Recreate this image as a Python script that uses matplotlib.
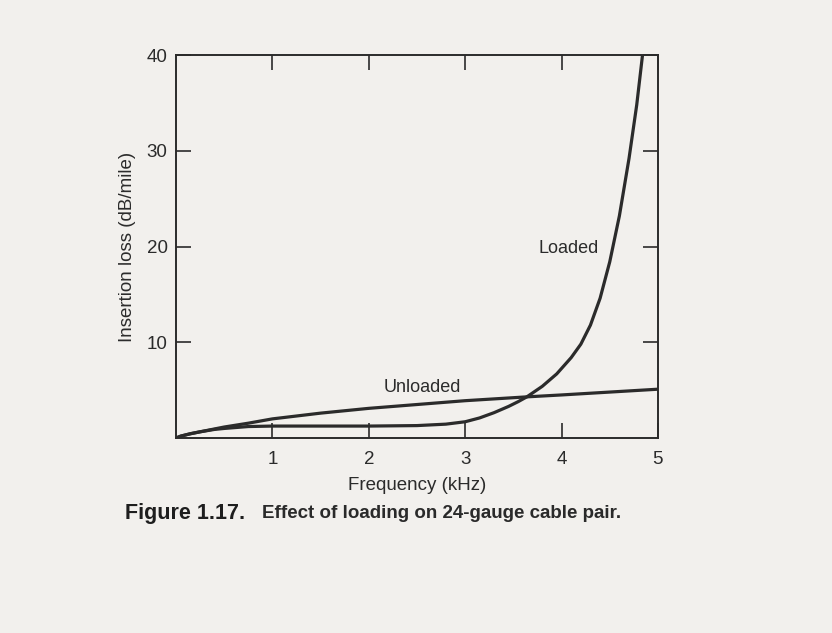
import numpy as np
import matplotlib.pyplot as plt

plt.rcParams['font.family'] = ['Liberation Sans', 'DejaVu Sans']

# Curvas (frecuencia en kHz, perdida en dB/milla)
frec_sin_carga = [0.0, 0.05, 0.15, 0.25, 0.4, 0.5, 0.75, 1.0, 1.5, 2.0, 2.5,
                  3.0, 3.64, 4.0, 4.5, 5.0]
perd_sin_carga = [0.0, 0.2, 0.45, 0.65, 0.95, 1.15, 1.55, 2.0, 2.6, 3.1, 3.5,
                  3.9, 4.3, 4.5, 4.8, 5.1]

frec_con_carga = [0.0, 0.05, 0.15, 0.25, 0.4, 0.5, 0.75, 1.0, 1.5, 2.0, 2.5,
                  2.8, 3.0, 3.15, 3.3, 3.45, 3.55, 3.64, 3.8, 3.95, 4.1, 4.2,
                  4.3, 4.4, 4.5, 4.6, 4.7, 4.78, 4.84]
perd_con_carga = [0.0, 0.2, 0.45, 0.65, 0.9, 1.0, 1.2, 1.25, 1.25, 1.25, 1.3,
                  1.45, 1.7, 2.1, 2.65, 3.3, 3.8, 4.3, 5.4, 6.7, 8.4, 9.8,
                  11.8, 14.6, 18.4, 23.2, 29.2, 34.8, 40.0]

xticks = [1, 2, 3, 4, 5]
yticks = [10, 20, 30, 40]

fondo = '#f2f0ed'
tinta = '#2b2b2b'

fig = plt.figure(figsize=(8.32, 6.33), dpi=100, facecolor=fondo)
ax = fig.add_axes([0.2115, 0.308, 0.5793, 0.6051], facecolor=fondo)

ax.plot(frec_sin_carga, perd_sin_carga, color=tinta, lw=2.3,
        solid_capstyle='round', solid_joinstyle='round')
ax.plot(frec_con_carga, perd_con_carga, color=tinta, lw=2.3,
        solid_capstyle='round', solid_joinstyle='round')

ax.text(4.07, 19.8, 'Loaded', fontsize=13, color=tinta,
        ha='center', va='center')
ax.text(2.56, 5.3, 'Unloaded', fontsize=13, color=tinta,
        ha='center', va='center')

ax.set_xlim(0, 5)
ax.set_ylim(0, 40)
ax.set_xticks(xticks)
ax.set_yticks(yticks)
ax.tick_params(direction='in', top=True, right=True, length=11, width=1.2,
               color=tinta, labelcolor=tinta, labelsize=13.5)
ax.tick_params(axis='x', pad=9)
ax.tick_params(axis='y', pad=6)
for s in ax.spines.values():
    s.set_linewidth(1.4)
    s.set_color(tinta)

ax.set_xlabel('Frequency (kHz)', fontsize=13.5, color=tinta, labelpad=7)
ax.set_ylabel('Insertion loss (dB/mile)', fontsize=13.5, color=tinta,
              labelpad=8)

fig.text(0.150, 0.189, 'Figure 1.17.', fontsize=15.5, fontweight='bold',
         color='#1e1e1e', ha='left', va='center')
fig.text(0.315, 0.189, 'Effect of loading on 24-gauge cable pair.',
         fontsize=13.5, fontweight='bold', color='#2a2a2a',
         ha='left', va='center')

fig.savefig('out.png', dpi=100, facecolor=fondo)
